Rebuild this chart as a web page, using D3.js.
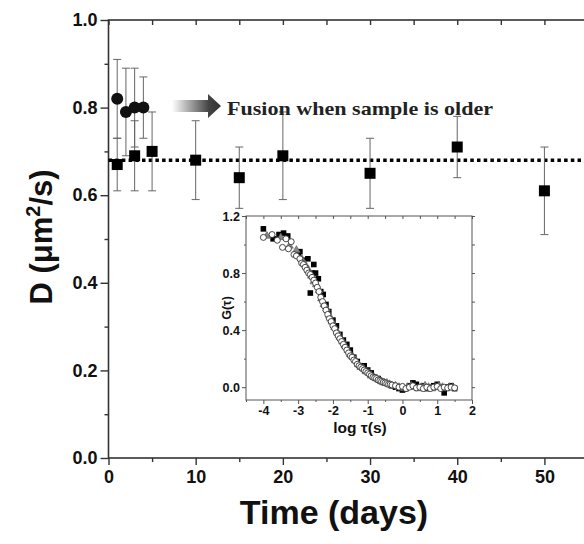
<!doctype html>
<html>
<head>
<meta charset="utf-8">
<script src="https://d3js.org/d3.v7.min.js"></script>
<style>
  body { margin: 0; background: #fff; }
  svg { display: block; }
</style>
</head>
<body>
<script>
// ---- main panel data: D vs age of sample ----
var sqDays = [1, 3, 5, 10, 15, 20, 30, 40, 50];
var sqD    = [0.67, 0.69, 0.70, 0.68, 0.64, 0.69, 0.65, 0.71, 0.61];
var sqErr  = [0.06, 0.08, 0.09, 0.09, 0.07, 0.10, 0.08, 0.07, 0.10];

var ciDays = [1, 2, 3, 4];
var ciD    = [0.82, 0.79, 0.80, 0.80];
var ciErr  = [0.09, 0.10, 0.09, 0.07];

var meanD = 0.68;
var xTicks = [0, 10, 20, 30, 40, 50];
var yTicks = [0.0, 0.2, 0.4, 0.6, 0.8, 1.0];

// ---- inset data: G(tau) vs log tau ----
var insetBlack = [
  [-4.0,1.11],[-3.72,1.04],[-3.55,1.07],[-3.42,1.08],[-3.3,1.06],[-3.0,0.93],[-2.95,0.95],
  [-2.85,0.89],[-2.72,0.9],[-2.65,0.66],[-2.6,0.8],[-2.55,0.86],[-2.5,0.8],[-2.42,0.76],
  [-2.35,0.67],[-2.28,0.65],[-2.2,0.58],[-2.12,0.53],[-2.0,0.47],[-1.9,0.43],[-1.8,0.37],
  [-1.7,0.33],[-1.6,0.3],[-1.5,0.26],[-1.4,0.21],[-1.3,0.18],[-1.2,0.15],[-1.1,0.15],
  [-1.0,0.12],[-0.9,0.1],[-0.8,0.07],[-0.7,0.06],[-0.6,0.04],[-0.5,0.03],[-0.4,0.02],
  [-0.3,0.01],[-0.2,0.0],[-0.1,-0.01],[0.0,-0.02],[0.1,-0.01],[0.2,0.01],[0.3,0.03],
  [0.4,0.02],[0.5,0.0],[0.6,0.01],[0.7,-0.01],[0.8,0.0],[0.9,0.01],[1.0,0.02],
  [1.1,0.0],[1.2,-0.04],[1.3,0.0],[1.4,0.01],[1.5,-0.01]
];
var insetGray = [
  [-3.9,1.06],[-3.5,1.05],[-3.25,0.99],[-3.05,0.96],[-2.9,0.9],[-2.8,0.86],[-2.7,0.82],
  [-2.62,0.78],[-2.55,0.74],[-2.48,0.72],[-2.4,0.68],[-2.33,0.62],[-2.26,0.58],[-2.18,0.55],
  [-2.1,0.5],[-2.03,0.46],[-1.95,0.42],[-1.88,0.39],[-1.8,0.35],[-1.72,0.32],[-1.65,0.29],
  [-1.57,0.26],[-1.5,0.23],[-1.42,0.21],[-1.35,0.19],[-1.27,0.16],[-1.2,0.14],[-1.12,0.13],
  [-1.05,0.11],[-0.97,0.1],[-0.9,0.08],[-0.82,0.07],[-0.75,0.06],[-0.67,0.05],[-0.6,0.04],
  [-0.52,0.03],[-0.45,0.03],[-0.37,0.02],[-0.3,0.01],[-0.2,0.01],[-0.1,0.0],[0.05,-0.01],
  [0.15,0.0],[0.25,0.01],[0.35,0.0],[0.45,-0.01],[0.55,0.0],[0.65,0.01],[0.75,0.0],
  [0.85,-0.01],[0.95,0.0],[1.05,0.01],[1.15,0.0],[1.25,-0.01],[1.35,0.0],[1.45,0.0]
];
var insetOpen = [
  [-4.0,1.05],[-3.75,1.07],[-3.6,1.03],[-3.45,0.98],[-3.35,1.04],[-3.28,0.97],[-3.2,1.02],
  [-3.12,0.93],[-3.05,0.92],[-2.95,0.9],[-2.9,0.87],[-2.85,0.86],[-2.8,0.84],[-2.75,0.82],
  [-2.7,0.8],[-2.65,0.79],[-2.6,0.77],[-2.55,0.75],[-2.5,0.73],[-2.45,0.7],[-2.4,0.67],
  [-2.35,0.63],[-2.3,0.6],[-2.25,0.57],[-2.2,0.54],[-2.15,0.51],[-2.1,0.48],[-2.05,0.46],
  [-2.0,0.43],[-1.95,0.41],[-1.9,0.38],[-1.85,0.36],[-1.8,0.34],[-1.75,0.32],[-1.7,0.3],
  [-1.65,0.28],[-1.6,0.26],[-1.55,0.24],[-1.5,0.22],[-1.45,0.21],[-1.4,0.19],[-1.35,0.18],
  [-1.3,0.16],[-1.25,0.15],[-1.2,0.14],[-1.15,0.13],[-1.1,0.12],[-1.05,0.11],[-1.0,0.1],
  [-0.95,0.09],[-0.9,0.08],[-0.85,0.07],[-0.8,0.065],[-0.75,0.06],[-0.7,0.05],[-0.65,0.045],
  [-0.6,0.04],[-0.55,0.035],[-0.5,0.03],[-0.45,0.025],[-0.4,0.02],[-0.35,0.02],[-0.3,0.015],
  [-0.2,0.01],[-0.1,0.0],[0.0,0.005],[0.1,-0.01],[0.2,0.0],[0.3,0.01],[0.4,-0.005],
  [0.5,0.0],[0.6,-0.01],[0.7,0.0],[0.8,-0.01],[0.9,0.0],[1.0,0.005],[1.1,-0.01],
  [1.2,0.0],[1.3,-0.005],[1.4,0.0],[1.5,-0.005]
];
var insetXTicks = [-4, -3, -2, -1, 0, 1, 2];
var insetYTicks = [0.0, 0.4, 0.8, 1.2];

var W = 584, H = 544;
var frame = "#333";
var sans = "'Liberation Sans', Arial, sans-serif";

var svg = d3.select("body").append("svg").attr("width", W).attr("height", H);

//-----------------main axes
var x = d3.scaleLinear().domain([0, 55]).range([108.5, 588]);
var y = d3.scaleLinear().domain([0, 1]).range([458, 20]);

var g = svg.append("g");

function styleAxis(sel, size) {
  sel.select(".domain").remove();
  sel.selectAll("line").attr("stroke", frame).attr("stroke-width", 1.4);
  sel.selectAll("text").attr("fill", "#111").style("font-family", sans)
     .style("font-weight", "bold").style("font-size", size + "px");
}

// minor ticks first
g.append("g").attr("transform", "translate(0,458)")
  .call(d3.axisBottom(x).tickValues(d3.range(5, 55, 10)).tickSize(4).tickFormat(""))
  .call(styleAxis, 18);
g.append("g").attr("transform", "translate(0,458)")
  .call(d3.axisBottom(x).tickValues(xTicks).tickSize(7).tickPadding(5).tickFormat(d3.format("d")))
  .call(styleAxis, 18);
g.append("g").attr("transform", "translate(0,20)")
  .call(d3.axisBottom(x).tickValues(d3.range(0, 56, 5)).tickSize(5).tickFormat(""))
  .call(styleAxis, 18);

g.append("g").attr("transform", "translate(108.5,0)")
  .call(d3.axisLeft(y).tickValues([0.1, 0.3, 0.5, 0.7, 0.9]).tickSize(4).tickFormat(""))
  .call(styleAxis, 18);
g.append("g").attr("transform", "translate(108.5,0)")
  .call(d3.axisLeft(y).tickValues(yTicks).tickSize(8).tickPadding(3).tickFormat(d3.format(".1f")))
  .call(styleAxis, 18);
g.append("g").attr("transform", "translate(588,0)")
  .call(d3.axisLeft(y).tickValues([0.1, 0.3, 0.5, 0.7, 0.9]).tickSize(-4).tickFormat(""))
  .call(styleAxis, 18);
g.append("g").attr("transform", "translate(588,0)")
  .call(d3.axisLeft(y).tickValues(yTicks).tickSize(-8).tickFormat(""))
  .call(styleAxis, 18);

// frame
g.append("rect").attr("x", 108.5).attr("y", 20).attr("width", 588 - 108.5).attr("height", 438)
  .attr("fill", "none").attr("stroke", frame).attr("stroke-width", 1.6);

// axis titles
svg.append("text").attr("x", 334).attr("y", 524).attr("text-anchor", "middle")
  .style("font-family", sans).style("font-weight", "bold").style("font-size", "34px")
  .attr("fill", "#111").text("Time (days)");

var yl = svg.append("text").attr("transform", "translate(52,237) rotate(-90)")
  .attr("text-anchor", "middle").style("font-family", sans).style("font-weight", "bold")
  .style("font-size", "31px").attr("fill", "#111");
yl.append("tspan").text("D (\u03bcm");
yl.append("tspan").attr("dy", -12).style("font-size", "20px").text("2");
yl.append("tspan").attr("dy", 12).text("/s)");

// dotted mean line
g.append("line").attr("x1", x(0)).attr("x2", W).attr("y1", y(meanD)).attr("y2", y(meanD))
  .attr("stroke", "#000").attr("stroke-width", 3.5).attr("stroke-dasharray", "3.5,3.2");

// arrow with gradient
var defs = svg.append("defs");
var grad = defs.append("linearGradient").attr("id", "arrowGrad")
  .attr("x1", "0%").attr("x2", "100%").attr("y1", "0%").attr("y2", "0%");
grad.append("stop").attr("offset", "0%").attr("stop-color", "#fff");
grad.append("stop").attr("offset", "75%").attr("stop-color", "#444");
grad.append("stop").attr("offset", "100%").attr("stop-color", "#333");

var ax0 = 172, ax1 = 208, ax2 = 221, ay = 106;
svg.append("path")
  .attr("d", "M" + ax0 + "," + (ay - 6) + "L" + ax1 + "," + (ay - 6) + "L" + ax1 + "," + (ay - 12) +
             "L" + ax2 + "," + ay + "L" + ax1 + "," + (ay + 12) + "L" + ax1 + "," + (ay + 6) +
             "L" + ax0 + "," + (ay + 6) + "Z")
  .attr("fill", "url(#arrowGrad)");

svg.append("text").attr("x", 227).attr("y", 115)
  .style("font-family", "'Liberation Serif', 'Times New Roman', serif").style("font-weight", "bold")
  .style("font-size", "19.5px").attr("fill", "#222")
  .attr("textLength", 266).attr("lengthAdjust", "spacingAndGlyphs")
  .text("Fusion when sample is older");

// error bars
function errBars(days, vals, errs) {
  var eb = g.append("g").attr("stroke", "#666").attr("stroke-width", 1);
  days.forEach(function(d, i) {
    var cx = x(d), hi = y(vals[i] + errs[i]), lo = y(vals[i] - errs[i]);
    eb.append("line").attr("x1", cx).attr("x2", cx).attr("y1", hi).attr("y2", lo);
    eb.append("line").attr("x1", cx - 4).attr("x2", cx + 4).attr("y1", hi).attr("y2", hi);
    eb.append("line").attr("x1", cx - 4).attr("x2", cx + 4).attr("y1", lo).attr("y2", lo);
  });
}
errBars(ciDays, ciD, ciErr);
errBars(sqDays, sqD, sqErr);

g.append("g").selectAll("circle").data(ciDays).enter().append("circle")
  .attr("cx", function(d) { return x(d); })
  .attr("cy", function(d, i) { return y(ciD[i]); })
  .attr("r", 6).attr("fill", "#111");

g.append("g").selectAll("rect").data(sqDays).enter().append("rect")
  .attr("x", function(d) { return x(d) - 5.5; })
  .attr("y", function(d, i) { return y(sqD[i]) - 5.5; })
  .attr("width", 11).attr("height", 11).attr("fill", "#000");

//-----------------inset
var ix = d3.scaleLinear().domain([-4.5, 2]).range([246, 472]);
var iy = d3.scaleLinear().domain([-0.09, 1.2]).range([400, 216]);
var ins = svg.append("g");
ins.append("rect").attr("x", 246).attr("y", 216).attr("width", 226).attr("height", 184).attr("fill", "#fff");

function styleInset(sel) {
  sel.select(".domain").remove();
  sel.selectAll("line").attr("stroke", "#555").attr("stroke-width", 1);
  sel.selectAll("text").attr("fill", "#111").style("font-family", sans)
     .style("font-weight", "bold").style("font-size", "12.5px");
}
ins.append("g").attr("transform", "translate(0,400)")
  .call(d3.axisBottom(ix).tickValues(d3.range(-4.5, 2, 1)).tickSize(2).tickFormat(""))
  .call(styleInset);
ins.append("g").attr("transform", "translate(0,400)")
  .call(d3.axisBottom(ix).tickValues(insetXTicks).tickSize(4).tickPadding(2)
    .tickFormat(function(d) { return d < 0 ? "-" + Math.abs(d) : d; }))
  .call(styleInset);
ins.append("g").attr("transform", "translate(0,216)")
  .call(d3.axisBottom(ix).tickValues(d3.range(-4.5, 2.01, 0.5)).tickSize(3).tickFormat(""))
  .call(styleInset);
ins.append("g").attr("transform", "translate(246,0)")
  .call(d3.axisLeft(iy).tickValues([0.2, 0.6, 1.0]).tickSize(2).tickFormat(""))
  .call(styleInset);
ins.append("g").attr("transform", "translate(246,0)")
  .call(d3.axisLeft(iy).tickValues(insetYTicks).tickSize(4).tickPadding(2).tickFormat(d3.format(".1f")))
  .call(styleInset);
ins.append("g").attr("transform", "translate(472,0)")
  .call(d3.axisLeft(iy).tickValues([0.0, 0.2, 0.4, 0.6, 0.8, 1.0, 1.2]).tickSize(-3).tickFormat(""))
  .call(styleInset);
ins.append("rect").attr("x", 246).attr("y", 216).attr("width", 226).attr("height", 184)
  .attr("fill", "none").attr("stroke", "#555").attr("stroke-width", 1);

ins.append("text").attr("x", 360).attr("y", 433).attr("text-anchor", "middle")
  .style("font-family", sans).style("font-weight", "bold").style("font-size", "15.5px")
  .attr("fill", "#111").text("log \u03c4(s)");
ins.append("text").attr("transform", "translate(231,308) rotate(-90)").attr("text-anchor", "middle")
  .style("font-family", sans).style("font-weight", "bold").style("font-size", "12.5px")
  .attr("fill", "#111").text("G(\u03c4)");

ins.append("g").selectAll("rect").data(insetBlack).enter().append("rect")
  .attr("x", function(d) { return ix(d[0]) - 2.8; })
  .attr("y", function(d) { return iy(d[1]) - 2.8; })
  .attr("width", 5.6).attr("height", 5.6).attr("fill", "#000");

var sym = d3.symbol().type(d3.symbolTriangle).size(26);
ins.append("g").selectAll("path").data(insetGray).enter().append("path")
  .attr("d", sym)
  .attr("transform", function(d) { return "translate(" + ix(d[0]) + "," + iy(d[1]) + ")"; })
  .attr("fill", "#888").attr("stroke", "#555").attr("stroke-width", 0.6);

ins.append("g").selectAll("circle").data(insetOpen).enter().append("circle")
  .attr("cx", function(d) { return ix(d[0]); })
  .attr("cy", function(d) { return iy(d[1]); })
  .attr("r", 3).attr("fill", "#fff").attr("stroke", "#333").attr("stroke-width", 0.9);
</script>
</body>
</html>
